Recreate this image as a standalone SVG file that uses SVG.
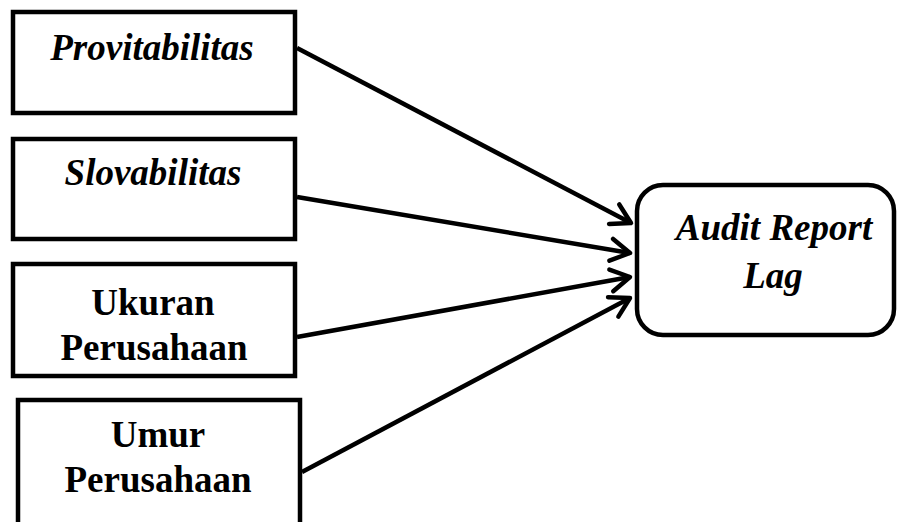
<svg xmlns="http://www.w3.org/2000/svg" width="904" height="522" viewBox="0 0 904 522">
<style>
.box{fill:#fff;stroke:#000;stroke-width:4.5}
.t{font-family:"Liberation Serif","Times New Roman",serif;font-size:37px;font-weight:bold;text-anchor:middle;fill:#000}
.i{font-style:italic}
.c{stroke:#000;stroke-width:4.5;fill:none}
</style>
<defs>
<marker id="ah" markerUnits="userSpaceOnUse" markerWidth="40" markerHeight="40" viewBox="-30 -20 40 40" refX="0" refY="0" orient="auto">
<path d="M-19,-11 L0,0 L-19,11" fill="none" stroke="#000" stroke-width="4.5" stroke-linecap="round" stroke-linejoin="round"/>
</marker>
</defs>
<g id="connectors">
<line class="c" x1="297" y1="48" x2="631" y2="223" marker-end="url(#ah)"/>
<line class="c" x1="297" y1="197" x2="630" y2="253" marker-end="url(#ah)"/>
<line class="c" x1="297" y1="337" x2="630" y2="277" marker-end="url(#ah)"/>
<line class="c" x1="302" y1="472" x2="630" y2="298" marker-end="url(#ah)"/>
</g>
<g id="provitabilitas">
<rect class="box" x="13" y="12" width="282" height="101"/>
<text class="t i" x="152" y="60">Provitabilitas</text>
</g>
<g id="slovabilitas">
<rect class="box" x="13" y="139" width="282" height="100"/>
<text class="t i" x="153" y="185">Slovabilitas</text>
</g>
<g id="ukuran">
<rect class="box" x="13" y="264" width="282" height="112"/>
<text class="t" x="153" y="315">Ukuran</text>
<text class="t" x="154" y="360">Perusahaan</text>
</g>
<g id="umur">
<rect class="box" x="18" y="400" width="282" height="130"/>
<text class="t" x="158" y="447">Umur</text>
<text class="t" x="158" y="492">Perusahaan</text>
</g>
<g id="audit">
<rect class="box" x="637" y="185" width="257" height="150" rx="26" ry="26"/>
<text class="t i" x="774" y="240">Audit Report</text>
<text class="t i" x="773" y="288">Lag</text>
</g>
</svg>
